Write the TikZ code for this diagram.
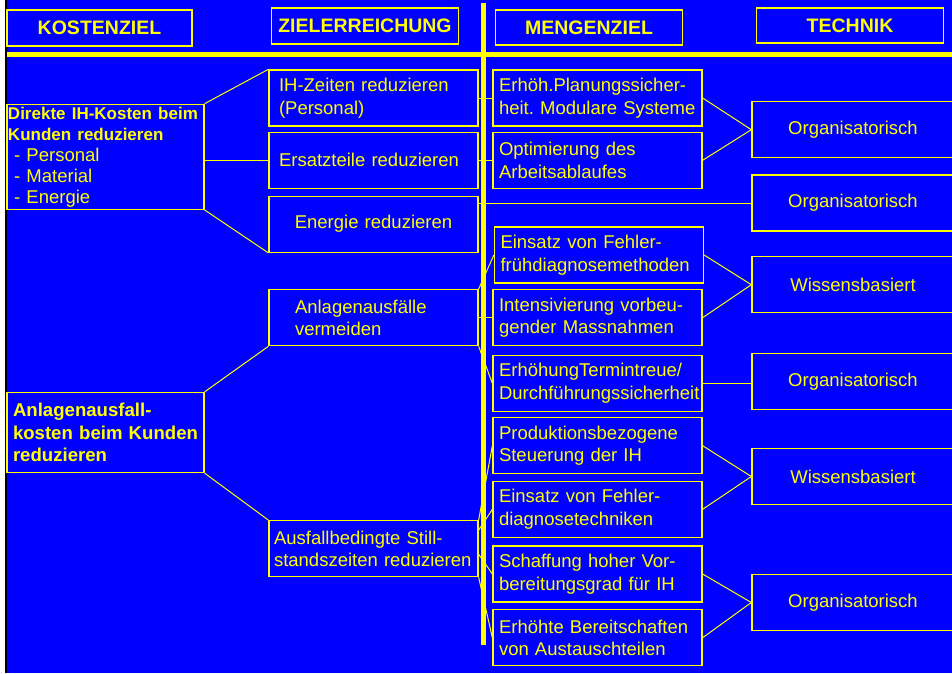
\documentclass[tikz,border=0pt]{standalone}
\usepackage{fontspec}
\setmainfont{Liberation Sans}
\usepackage{tikz}
\definecolor{slideblue}{RGB}{0,0,255}
\definecolor{slideyellow}{RGB}{255,255,0}
\hyphenpenalty=10000
\exhyphenpenalty=10000
\frenchspacing

\begin{document}
\begin{tikzpicture}[
    x=1pt, y=-1pt,
    every node/.style={text=slideyellow, font=\fontsize{18.5}{22.5}\selectfont},
    head/.style={draw=slideyellow, line width=1.3pt, minimum width=187pt, minimum height=35pt, inner sep=0pt, font=\fontsize{19.5}{22}\selectfont\bfseries},
    kbox/.style={draw=slideyellow, line width=1.3pt, minimum width=197pt, text width=185pt, inner xsep=6pt, inner ysep=0pt, align=left},
    zbox/.style={draw=slideyellow, line width=1.3pt, minimum width=209pt, minimum height=56pt, text width=189pt, inner xsep=10pt, align=left},
    mbox/.style={zbox, text width=197pt, inner xsep=6pt},
    tbox/.style={draw=slideyellow, line width=1.3pt, minimum width=202pt, minimum height=56pt, align=center},
    link/.style={draw=slideyellow, line width=1pt}
]
\useasboundingbox (0,0) rectangle (952,673);
\clip (0,0) rectangle (952,673);
\fill[white] (0,0) rectangle (4.5,673);
\fill[black] (4.5,0) rectangle (7,673);
\fill[slideblue] (7,0) rectangle (952,673);

\node[head, minimum width=185pt, minimum height=36pt] (kost) at (99.5,28) {KOSTENZIEL};
\node[head, minimum height=36pt] (ziel) at (365,26) {ZIELERREICHUNG};
\node[head] (meng) at (589,27.5) {MENGENZIEL};
\node[head] (tech) at (850,25.5) {TECHNIK};

\node[kbox, minimum height=105pt, inner xsep=1pt, text width=195pt, font=\fontsize{18.5}{21}\selectfont] (dir) at (105.5,156.8) {{\fontsize{17}{21}\selectfont\bfseries Direkte IH-Kosten beim\\ Kunden reduzieren}\\ ~- Personal\\ ~- Material\\ ~- Energie};
\node[kbox, minimum height=80pt, font=\fontsize{18.6}{22.5}\selectfont\bfseries] (anf) at (105.5,432.5) {Anlagenausfall-\\ kosten beim Kunden\\ reduzieren};

\node[zbox] (ihz) at (373.5,98) {IH-Zeiten reduzieren\\ (Personal)};
\node[zbox] (ers) at (373.5,160.3) {Ersatzteile reduzieren};
\node[zbox, align=center] (ener) at (373.5,224.2) {Energie reduzieren};
\node[zbox, inner xsep=26pt, text width=157pt] (anl) at (373.5,317.7) {Anlagenausfälle\\ vermeiden};
\node[zbox, inner xsep=5pt, text width=199pt] (ausf) at (373.5,548.7) {Ausfallbedingte Still-\\ standszeiten reduzieren};

\node[mbox] (erh) at (597.5,98) {Erhöh.Planungssicher-\\ heit. Modulare Systeme};
\node[mbox] (opt) at (597.5,160.3) {Optimierung des\\ Arbeitsablaufes};
\node[mbox] (einf) at (599,255) {Einsatz von Fehler-\\ frühdiagnosemethoden};
\node[mbox] (intens) at (597.5,317.7) {Intensivierung vorbeu-\\ gender Massnahmen};
\node[mbox] (termin) at (597.5,383.3) {ErhöhungTermintreue/\\ Durchführungssicherheit};
\node[mbox] (prod) at (597.5,445.7) {Produktionsbezogene\\ Steuerung der IH};
\node[mbox] (einsd) at (597.5,509.3) {Einsatz von Fehler-\\ diagnosetechniken};
\node[mbox] (schaff) at (597.5,574) {Schaffung hoher Vor-\\ bereitungsgrad für IH};
\node[mbox] (bereit) at (597.5,637.7) {Erhöhte Bereitschaften\\ von Austauschteilen};

\node[tbox] (org1) at (853,129.7) {Organisatorisch};
\node[tbox] (org2) at (853,203) {Organisatorisch};
\node[tbox] (wis1) at (853,284.7) {Wissensbasiert};
\node[tbox] (org3) at (853,381.3) {Organisatorisch};
\node[tbox] (wis2) at (853,476.5) {Wissensbasiert};
\node[tbox] (org4) at (853,602.5) {Organisatorisch};

\draw[link] (dir.north east) -- (ihz.north west);
\draw[link] (ers.west -| dir.east) -- (ers.west);
\draw[link] (dir.south east) -- (ener.south west);
\draw[link] (anf.north east) -- (anl.south west);
\draw[link] (anf.south east) -- (ausf.north west);

\draw[link] (ihz.east) -- (erh.west);
\draw[link] (ers.east) -- (opt.west);
\draw[link] (org2.west -| ener.east) -- (org2.west);
\draw[link] (anl.north east) -- (einf.west);
\draw[link] (anl.east) -- (intens.west);
\draw[link] (anl.south east) -- (termin.west);
\draw[link] (ausf.north east) -- (prod.west);
\draw[link] (ausf.10) -- (einsd.west);
\draw[link] (ausf.-3) -- (schaff.west);
\draw[link] (ausf.south east) -- (bereit.west);

\draw[link] (erh.east) -- (org1.west);
\draw[link] (opt.east) -- (org1.west);
\draw[link] (einf.east) -- (wis1.west);
\draw[link] (intens.east) -- (wis1.west);
\draw[link] (termin.east) -- (termin.east -| org3.west);
\draw[link] (prod.east) -- (wis2.west);
\draw[link] (einsd.east) -- (wis2.west);
\draw[link] (schaff.east) -- (org4.west);
\draw[link] (bereit.east) -- (org4.west);

\fill[slideyellow] (7,52) rectangle (952,57);
\fill[slideyellow] (481,3) rectangle (486,645);
\end{tikzpicture}
\end{document}
